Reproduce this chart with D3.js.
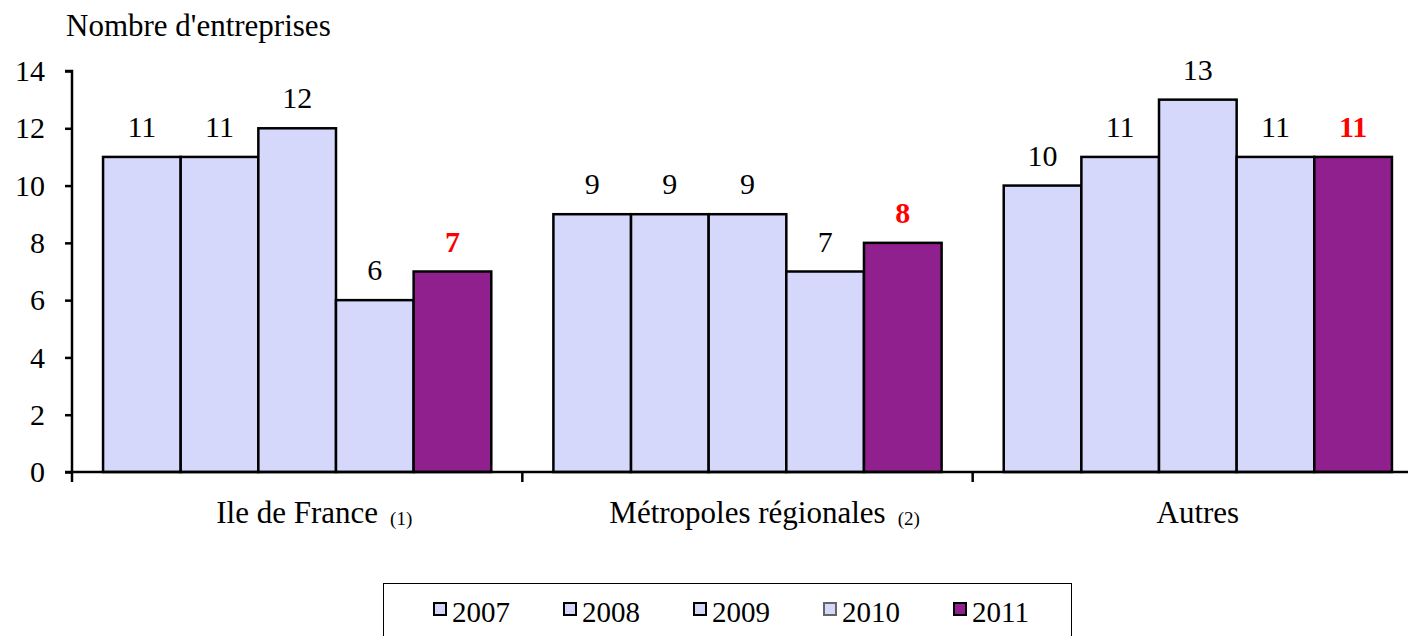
<!DOCTYPE html>
<html>
<head>
<meta charset="utf-8">
<script src="https://cdn.jsdelivr.net/npm/d3@7"></script>
<style>
  body { margin: 0; background: #fff; }
  svg text { font-family: "Liberation Serif", "Times New Roman", Times, "DejaVu Serif", serif; }
</style>
</head>
<body>
<svg id="chart" width="1408" height="636"></svg>
<script>
const categories = ['Ile de France', 'Métropoles régionales', 'Autres'];
const notes = ['(1)', '(2)', ''];
const years = ['2007', '2008', '2009', '2010', '2011'];
const values2007 = [11, 9, 10];
const values2008 = [11, 9, 11];
const values2009 = [12, 9, 13];
const values2010 = [6, 7, 11];
const values2011 = [7, 8, 11];
const yTicks = [0, 2, 4, 6, 8, 10, 12, 14];

const series = [values2007, values2008, values2009, values2010, values2011];
const colors = ['#d5d7fb', '#d5d7fb', '#d5d7fb', '#d5d7fb', '#91208f'];
const serif = '"Liberation Serif", "Times New Roman", Times, "DejaVu Serif", serif';

const svg = d3.select('#chart');
const plotLeft = 72, plotRight = 1423, plotTop = 71, plotBottom = 472;

const x0 = d3.scaleBand().domain(categories).range([plotLeft, plotRight]);
const x1 = d3.scaleBand().domain(years)
  .range([0, x0.bandwidth()])
  .paddingOuter(0.4);
const y = d3.scaleLinear().domain([0, 14]).range([plotBottom, plotTop]);

// bars
categories.forEach((cat, ci) => {
  const g = svg.append('g').attr('transform', `translate(${x0(cat)},0)`);
  years.forEach((yr, si) => {
    const v = series[si][ci];
    g.append('rect')
      .attr('x', x1(yr))
      .attr('y', y(v))
      .attr('width', x1.bandwidth())
      .attr('height', y(0) - y(v))
      .attr('fill', colors[si])
      .attr('stroke', '#000')
      .attr('stroke-width', 2.5);
    const last = si === years.length - 1;
    g.append('text')
      .attr('x', x1(yr) + x1.bandwidth() / 2)
      .attr('y', y(v) - 20)
      .attr('text-anchor', 'middle')
      .attr('font-family', serif)
      .attr('font-size', 30)
      .attr('font-weight', last ? 'bold' : 'normal')
      .attr('fill', last ? '#ff0000' : '#000')
      .text(v);
  });
});

// y axis
const yAxis = svg.append('g')
  .attr('transform', `translate(${plotLeft},0)`)
  .call(d3.axisLeft(y).tickValues(yTicks).tickSize(7).tickPadding(20));
yAxis.attr('font-family', serif).attr('font-size', 30);
yAxis.select('.domain').attr('stroke-width', 2.5).attr('d', `M-7,${plotTop}H0V${plotBottom}`);
yAxis.selectAll('.tick line').attr('stroke-width', 2.5);
yAxis.selectAll('.tick text').attr('fill', '#000');

// x axis
svg.append('line')
  .attr('x1', plotLeft - 7).attr('x2', 1408)
  .attr('y1', plotBottom).attr('y2', plotBottom)
  .attr('stroke', '#000').attr('stroke-width', 2.5);
categories.forEach(cat => {
  svg.append('line')
    .attr('x1', x0(cat)).attr('x2', x0(cat))
    .attr('y1', plotBottom).attr('y2', plotBottom + 10)
    .attr('stroke', '#000').attr('stroke-width', 2.5);
});

categories.forEach((cat, ci) => {
  const cx = x0(cat) + x0.bandwidth() / 2;
  const t = svg.append('text')
    .attr('x', cx)
    .attr('y', 523)
    .attr('text-anchor', 'middle')
    .attr('font-family', serif)
    .attr('font-size', 31)
    .text(cat);
  if (notes[ci]) {
    const w = t.node().getComputedTextLength();
    svg.append('text')
      .attr('x', cx + w / 2 + 12)
      .attr('y', 525)
      .attr('font-family', serif)
      .attr('font-size', 19)
      .text(notes[ci]);
  }
});

// title
svg.append('text')
  .attr('x', 66)
  .attr('y', 36)
  .attr('font-family', serif)
  .attr('font-size', 31)
  .text("Nombre d'entreprises");

// legend
svg.append('rect')
  .attr('x', 383.5).attr('y', 583.5)
  .attr('width', 688).attr('height', 70)
  .attr('fill', '#fff')
  .attr('stroke', '#000')
  .attr('stroke-width', 1);

years.forEach((yr, i) => {
  const lx = 434 + i * 130;
  svg.append('rect')
    .attr('x', lx).attr('y', 603)
    .attr('width', 12).attr('height', 12)
    .attr('fill', colors[i])
    .attr('stroke', i === 3 ? '#666' : '#000')
    .attr('stroke-width', 2);
  svg.append('text')
    .attr('x', lx + 18)
    .attr('y', 622)
    .attr('font-family', serif)
    .attr('font-size', 29)
    .text(yr);
});
</script>
</body>
</html>
